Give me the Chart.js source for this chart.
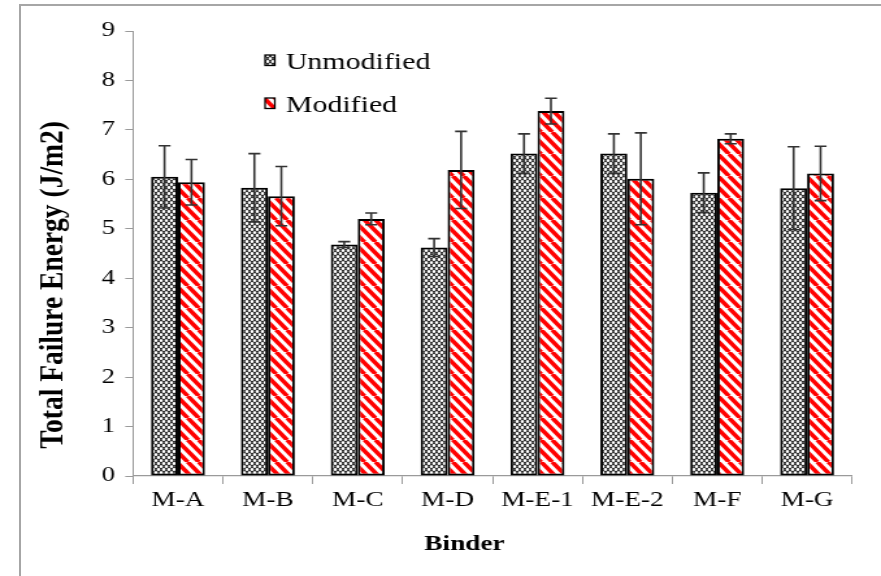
<!DOCTYPE html>
<html>
<head>
<meta charset="utf-8">
<script src="https://cdn.jsdelivr.net/npm/chart.js@4.4.1/dist/chart.umd.min.js"></script>
<style>
  html, body { margin: 0; padding: 0; background: #fff; }
  #page { position: relative; width: 881px; height: 576px; overflow: hidden; background: #fff; }
  #frame { position: absolute; left: 19px; top: 4px; width: 870px; height: 580px;
           border-left: 2px solid #a6a6a6; border-top: 2px solid #a6a6a6; }
  #wrap { position: absolute; left: 0; top: 0; width: 678px; height: 576px;
          transform: scale(1.2994, 1); transform-origin: 0 0; }
</style>
</head>
<body>
<div id="page">
  <div id="frame"></div>
  <div id="wrap"><canvas id="c" width="678" height="576"></canvas></div>
</div>
<script>
// ---- data ----
const categories = ['M-A', 'M-B', 'M-C', 'M-D', 'M-E-1', 'M-E-2', 'M-F', 'M-G'];
const unmodified = [6.05, 5.83, 4.68, 4.62, 6.52, 6.52, 5.73, 5.82];
const modified   = [5.94, 5.66, 5.20, 6.19, 7.38, 6.01, 6.82, 6.12];
const unmodifiedErr = [0.63, 0.69, 0.06, 0.18, 0.40, 0.40, 0.40, 0.84];
const modifiedErr   = [0.46, 0.60, 0.12, 0.78, 0.26, 0.93, 0.10, 0.55];
const yTicks = [0, 1, 2, 3, 4, 5, 6, 7, 8, 9];
const seriesNames = ['Unmodified', 'Modified'];
const axisTitles = { x: 'Binder', y: 'Total Failure Energy (J/m2)' };

const SERIF = '"Liberation Serif", "Times New Roman", serif';

function makeDotPattern() {
  const w = 4, h = 6;
  const c = document.createElement('canvas');
  c.width = w; c.height = h;
  const g = c.getContext('2d');
  g.fillStyle = '#303030';
  g.fillRect(0, 0, w, h);
  g.fillStyle = '#ffffff';
  const dots = [[2, 1.5], [0, 4.5], [4, 4.5]];
  dots.forEach(([x, y]) => {
    g.beginPath(); g.ellipse(x, y, 1.2, 1.55, 0, 0, Math.PI * 2); g.fill();
  });
  return g.createPattern(c, 'repeat');
}
function makeStripePattern() {
  const w = 8.5, h = 11;
  const c = document.createElement('canvas');
  c.width = 17; c.height = 22;
  const g = c.getContext('2d');
  g.fillStyle = '#ffffff';
  g.fillRect(0, 0, 17, 22);
  g.strokeStyle = '#ff0000';
  g.lineWidth = 3.6;
  for (let k = -3; k <= 3; k++) {
    const x0 = k * w;
    g.beginPath(); g.moveTo(x0, 0); g.lineTo(x0 + 2 * w, 2 * h); g.stroke();
  }
  return g.createPattern(c, 'repeat');
}
const dotPattern = makeDotPattern();
const stripePattern = makeStripePattern();

const errorBars = {
  id: 'errorBars',
  afterDatasetsDraw(chart) {
    const ctx = chart.ctx;
    const y = chart.scales.y;
    const errs = [unmodifiedErr, modifiedErr];
    ctx.save();
    ctx.strokeStyle = '#333333';
    ctx.lineWidth = 1.6;
    chart.data.datasets.forEach((ds, di) => {
      const meta = chart.getDatasetMeta(di);
      meta.data.forEach((bar, i) => {
        const v = ds.data[i], e = errs[di][i];
        const yt = y.getPixelForValue(v + e), yb = y.getPixelForValue(v - e);
        const x = bar.x, hw = 4.6;
        ctx.beginPath();
        ctx.moveTo(x, yt); ctx.lineTo(x, yb);
        ctx.moveTo(x - hw, yt); ctx.lineTo(x + hw, yt);
        ctx.moveTo(x - hw, yb); ctx.lineTo(x + hw, yb);
        ctx.stroke();
      });
    });
    ctx.restore();
  }
};

const overlayText = {
  id: 'overlayText',
  afterDraw(chart) {
    const ctx = chart.ctx;
    ctx.save();
    // legend
    const items = [
      { label: seriesNames[0], fill: dotPattern, base: 69 },
      { label: seriesNames[1], fill: stripePattern, base: 112 }
    ];
    items.forEach(it => {
      const bx = 204, bw = 7.5, bh = 10.5, by = it.base - 14;
      ctx.fillStyle = it.fill;
      ctx.fillRect(bx, by, bw, bh);
      ctx.strokeStyle = '#000';
      ctx.lineWidth = 1.3;
      ctx.strokeRect(bx, by, bw, bh);
      ctx.fillStyle = '#000';
      ctx.font = '23px ' + SERIF;
      ctx.textBaseline = 'alphabetic';
      ctx.textAlign = 'left';
      ctx.fillText(it.label, 220, it.base);
    });
    // axis titles
    ctx.fillStyle = '#000';
    ctx.textAlign = 'center';
    ctx.textBaseline = 'middle';
    ctx.font = 'bold 21px ' + SERIF;
    ctx.fillText(axisTitles.x, 357.5, 545);
    ctx.translate(41.5, 285);
    ctx.rotate(-Math.PI / 2);
    ctx.scale(1.1, 1);
    ctx.font = 'bold 25px ' + SERIF;
    ctx.fillText(axisTitles.y, 0, 0);
    ctx.restore();
  }
};

new Chart(document.getElementById('c'), {
  type: 'bar',
  data: {
    labels: categories,
    datasets: [
      { label: seriesNames[0], data: unmodified, backgroundColor: dotPattern,
        borderColor: '#000', borderWidth: 2, borderSkipped: false,
        categoryPercentage: 0.6, barPercentage: 1.0 },
      { label: seriesNames[1], data: modified, backgroundColor: stripePattern,
        borderColor: '#000', borderWidth: 2, borderSkipped: false,
        categoryPercentage: 0.6, barPercentage: 1.0 }
    ]
  },
  options: {
    responsive: false,
    animation: false,
    devicePixelRatio: 1,
    layout: { padding: { top: 31, right: 22.3, bottom: 0, left: 0 } },
    plugins: { legend: { display: false }, tooltip: { enabled: false } },
    scales: {
      x: {
        grid: { offset: true, drawOnChartArea: false, drawTicks: true, tickLength: 8, color: '#9a9a9a' },
        border: { display: true, color: '#9a9a9a', width: 1.3 },
        ticks: { color: '#000', font: { family: SERIF, size: 21 }, padding: 4, maxRotation: 0 },
        title: { display: false, text: axisTitles.x },
        afterFit(s) { s.height = 100; }
      },
      y: {
        min: 0, max: 9,
        afterBuildTicks(s) { s.ticks = yTicks.map(v => ({ value: v })); },
        grid: { drawOnChartArea: false, drawTicks: true, tickLength: 6, color: '#9a9a9a' },
        border: { display: true, color: '#9a9a9a', width: 1 },
        ticks: { color: '#000', font: { family: SERIF, size: 20.5 }, padding: 8 },
        title: { display: false, text: axisTitles.y },
        afterFit(s) { s.width = 102.4; }
      }
    }
  },
  plugins: [errorBars, overlayText]
});
</script>
</body>
</html>
